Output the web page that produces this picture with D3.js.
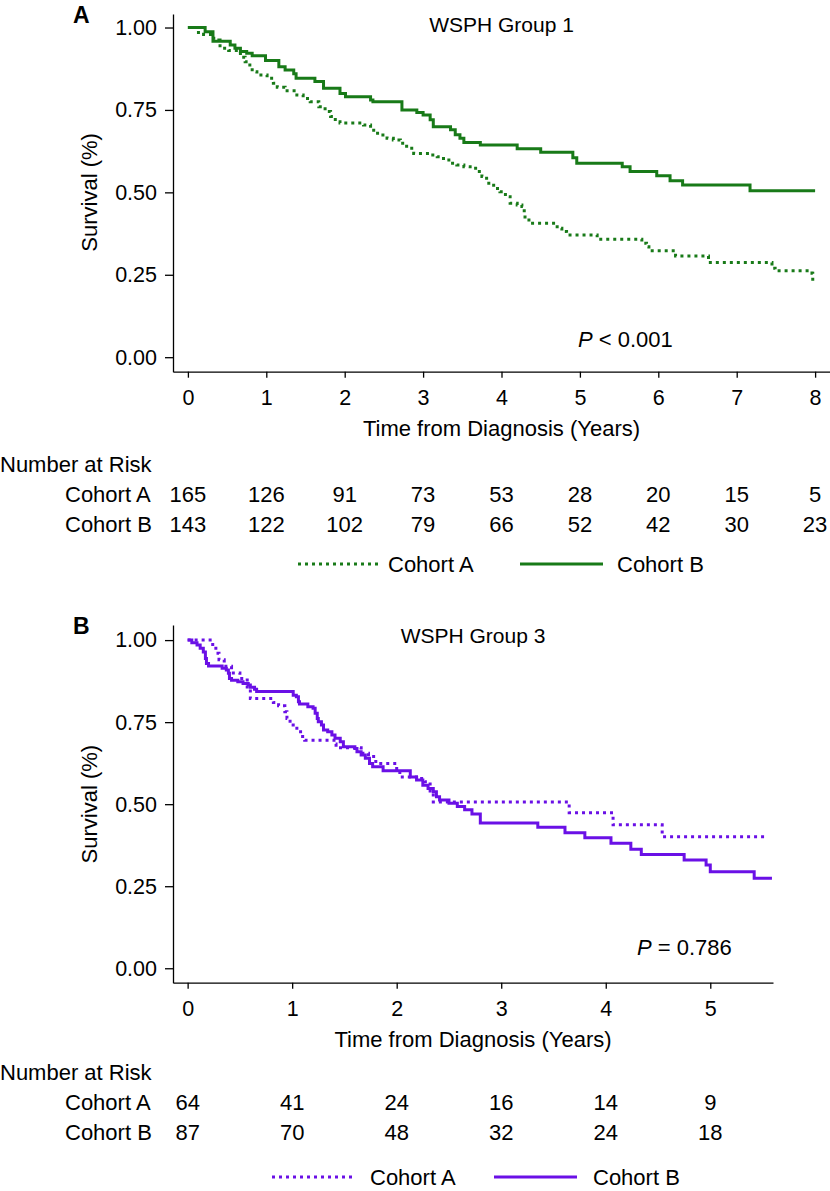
<!DOCTYPE html>
<html>
<head>
<meta charset="utf-8">
<script src="https://cdn.jsdelivr.net/npm/d3@7"></script>
<style>
  body { margin: 0; background: #fff; }
  svg text { font-family: "Liberation Sans", Arial, Helvetica, sans-serif; fill: #000; }
</style>
</head>
<body>
<div id="chart"></div>
<script>
// ---- data ----
// Kaplan-Meier steps as [years, survival]
const g1CohortA = [[0,1],[0.11,0.985],[0.2,0.979],[0.33,0.962],[0.41,0.937],[0.52,0.93],[0.67,0.91],[0.73,0.896],
  [0.79,0.881],[0.82,0.866],[0.88,0.856],[1.01,0.846],[1.09,0.831],[1.14,0.819],[1.24,0.808],[1.39,0.795],
  [1.47,0.785],[1.56,0.775],[1.67,0.76],[1.75,0.745],[1.82,0.73],[1.88,0.714],[1.94,0.71],[2.24,0.704],
  [2.33,0.694],[2.37,0.679],[2.45,0.674],[2.54,0.664],[2.62,0.659],[2.71,0.649],[2.79,0.634],[2.88,0.618],
  [3.09,0.613],[3.18,0.608],[3.26,0.598],[3.35,0.588],[3.43,0.583],[3.52,0.578],[3.6,0.573],[3.69,0.563],
  [3.75,0.548],[3.81,0.528],[3.9,0.512],[3.98,0.502],[4.05,0.487],[4.11,0.467],[4.2,0.462],[4.26,0.457],
  [4.29,0.437],[4.3,0.421],[4.35,0.406],[4.71,0.391],[4.77,0.381],[4.83,0.371],[5.22,0.358],[5.79,0.346],
  [5.85,0.335],[5.88,0.323],[6.22,0.307],[6.64,0.287],[7.45,0.27],[7.49,0.262],[7.96,0.255],[7.97,0.229],[7.97,0.229]];
const g1CohortB = [[0,1],[0.22,0.987],[0.32,0.958],[0.54,0.947],[0.6,0.937],[0.67,0.927],[0.75,0.922],[0.82,0.914],
  [0.99,0.9],[1.16,0.881],[1.24,0.871],[1.35,0.86],[1.38,0.846],[1.62,0.836],[1.73,0.816],[1.94,0.8],
  [2.01,0.79],[2.33,0.78],[2.36,0.775],[2.73,0.75],[2.92,0.742],[3.0,0.735],[3.09,0.72],[3.13,0.699],
  [3.35,0.69],[3.41,0.675],[3.47,0.664],[3.52,0.651],[3.73,0.644],[4.2,0.632],[4.5,0.622],[4.91,0.605],
  [4.96,0.588],[5.54,0.578],[5.64,0.563],[5.98,0.55],[6.15,0.535],[6.31,0.522],[7.17,0.505],[8.0,0.505]];
const g3CohortA = [[0,1],[0.24,0.98],[0.27,0.96],[0.3,0.94],[0.35,0.92],[0.42,0.9],[0.5,0.883],[0.57,0.85],
  [0.6,0.822],[0.82,0.81],[0.87,0.8],[0.93,0.782],[0.95,0.761],[0.98,0.741],[1.01,0.731],[1.06,0.721],
  [1.1,0.706],[1.12,0.695],[1.4,0.683],[1.42,0.672],[1.66,0.655],[1.73,0.645],[1.8,0.624],[2.0,0.604],
  [2.03,0.583],[2.19,0.578],[2.27,0.568],[2.32,0.54],[2.35,0.507],[3.65,0.474],[4.07,0.437],[4.54,0.401],[5.55,0.401]];
const g3CohortB = [[0,1],[0.04,0.992],[0.09,0.985],[0.12,0.975],[0.15,0.964],[0.17,0.944],[0.18,0.929],[0.2,0.921],
  [0.33,0.914],[0.37,0.909],[0.39,0.899],[0.4,0.883],[0.42,0.878],[0.48,0.873],[0.53,0.868],[0.58,0.863],
  [0.6,0.856],[0.64,0.85],[0.66,0.843],[1.01,0.832],[1.04,0.827],[1.06,0.812],[1.07,0.805],[1.15,0.797],
  [1.2,0.792],[1.22,0.777],[1.24,0.761],[1.25,0.751],[1.28,0.741],[1.3,0.726],[1.34,0.721],[1.38,0.711],
  [1.41,0.701],[1.46,0.69],[1.49,0.675],[1.6,0.67],[1.62,0.66],[1.66,0.65],[1.7,0.64],[1.74,0.624],
  [1.77,0.614],[1.87,0.602],[2.13,0.583],[2.19,0.574],[2.25,0.558],[2.3,0.548],[2.35,0.538],[2.38,0.523],
  [2.41,0.513],[2.5,0.503],[2.58,0.493],[2.65,0.483],[2.72,0.47],[2.8,0.443],[3.35,0.43],[3.61,0.413],
  [3.8,0.398],[4.05,0.381],[4.24,0.363],[4.34,0.347],[4.75,0.33],[4.96,0.315],[5.0,0.294],[5.42,0.274],[5.59,0.274]];

const yTicks = [0, 0.25, 0.5, 0.75, 1];
const xTicks1 = [0, 1, 2, 3, 4, 5, 6, 7, 8];
const xTicks3 = [0, 1, 2, 3, 4, 5];
const riskA1 = [165, 126, 91, 73, 53, 28, 20, 15, 5];
const riskB1 = [143, 122, 102, 79, 66, 52, 42, 30, 23];
const riskA3 = [64, 41, 24, 16, 14, 9];
const riskB3 = [87, 70, 48, 32, 24, 18];

const W = 830, H = 1191;
const FS = "22px";
const svg = d3.select("#chart").append("svg")
  .attr("width", W).attr("height", H);

function drawPanel(p) {
  const g = svg.append("g");
  const x = d3.scaleLinear().domain(p.xDomain).range([173, p.xRight]);
  const y = d3.scaleLinear().domain(p.yDomain).range([p.yBottom, p.yTop]);
  const midX = (x.range()[0] + x.range()[1]) / 2;

  // y axis
  const ya = g.append("g")
    .attr("transform", `translate(${x.range()[0]},0)`)
    .call(d3.axisLeft(y).tickValues(yTicks).tickFormat(d3.format(".2f"))
      .tickSize(8).tickSizeOuter(0).tickPadding(8));
  // x axis
  const xa = g.append("g")
    .attr("transform", `translate(0,${p.yBottom})`)
    .call(d3.axisBottom(x).tickValues(p.xTicks).tickFormat(d3.format("d"))
      .tickSize(6).tickSizeOuter(0).tickPadding(12));
  [ya, xa].forEach(a => {
    a.selectAll("path, line").attr("stroke", "#000").attr("stroke-width", 1.3);
    a.selectAll("text").style("font-size", "21.5px");
  });

  // curves
  const line = d3.line().x(d => x(d[0])).y(d => y(d[1])).curve(d3.curveStepAfter);
  g.append("path").datum(p.cohortA)
    .attr("d", line).attr("fill", "none").attr("stroke", p.color)
    .attr("stroke-width", 3).attr("stroke-dasharray", "3,4");
  g.append("path").datum(p.cohortB)
    .attr("d", line).attr("fill", "none").attr("stroke", p.color)
    .attr("stroke-width", 3);

  // panel letter + title + p-value
  g.append("text").attr("x", 73).attr("y", p.yTop + 9)
    .style("font-size", "23px").style("font-weight", "bold").text(p.letter);
  g.append("text").attr("x", midX).attr("y", p.yTop + 18).attr("text-anchor", "middle")
    .style("font-size", "21px").text(p.title);
  const pt = g.append("text").attr("x", p.pX).attr("y", p.pY).style("font-size", FS);
  pt.append("tspan").style("font-style", "italic").text("P");
  pt.append("tspan").text(p.pText);

  // axis titles
  g.append("text")
    .attr("transform", `translate(97,${(y(0) + y(1)) / 2}) rotate(-90)`)
    .attr("text-anchor", "middle").style("font-size", FS).text("Survival (%)");
  g.append("text").attr("x", midX).attr("y", p.yBottom + 64)
    .attr("text-anchor", "middle").style("font-size", FS).text("Time from Diagnosis (Years)");

  // number at risk
  const r0 = p.yBottom + p.riskGap;
  g.append("text").attr("x", 0).attr("y", r0).style("font-size", FS).text("Number at Risk");
  [["Cohort A", p.riskA], ["Cohort B", p.riskB]].forEach(([lab, vals], i) => {
    const ry = r0 + 30 * (i + 1);
    g.append("text").attr("x", 65).attr("y", ry).style("font-size", FS).text(lab);
    g.selectAll(null).data(vals).join("text")
      .attr("x", (d, j) => x(p.xTicks[j])).attr("y", ry)
      .attr("text-anchor", "middle").style("font-size", FS).text(d => d);
  });

  // legend
  const lg = g.append("g").attr("transform", `translate(${p.legendX},${p.legendY})`);
  lg.append("line").attr("x1", 0).attr("x2", 80).attr("y1", 0).attr("y2", 0)
    .attr("stroke", p.color).attr("stroke-width", 3).attr("stroke-dasharray", "3,4");
  lg.append("text").attr("x", p.legTextA).attr("y", 8).style("font-size", FS).text("Cohort A");
  lg.append("line").attr("x1", 222).attr("x2", 305).attr("y1", 0).attr("y2", 0)
    .attr("stroke", p.color).attr("stroke-width", 3);
  lg.append("text").attr("x", p.legTextB).attr("y", 8).style("font-size", FS).text("Cohort B");
}

drawPanel({
  letter: "A", title: "WSPH Group 1", color: "#187a18",
  xDomain: [-0.19, 8.19], xRight: 830, xTicks: xTicks1,
  yDomain: [-0.044, 1.041], yTop: 14, yBottom: 371.7,
  cohortA: g1CohortA, cohortB: g1CohortB,
  pX: 578, pY: 347, pText: " < 0.001",
  riskA: riskA1, riskB: riskB1, riskGap: 100,
  legendX: 298, legendY: 564, legTextA: 90, legTextB: 319
});
drawPanel({
  letter: "B", title: "WSPH Group 3", color: "#6a10e6",
  xDomain: [-0.14, 5.6], xRight: 773, xTicks: xTicks3,
  yDomain: [-0.044, 1.046], yTop: 625, yBottom: 982.7,
  cohortA: g3CohortA, cohortB: g3CohortB,
  pX: 637, pY: 955, pText: " = 0.786",
  riskA: riskA3, riskB: riskB3, riskGap: 97,
  legendX: 272, legendY: 1177, legTextA: 98, legTextB: 321
});
</script>
</body>
</html>
